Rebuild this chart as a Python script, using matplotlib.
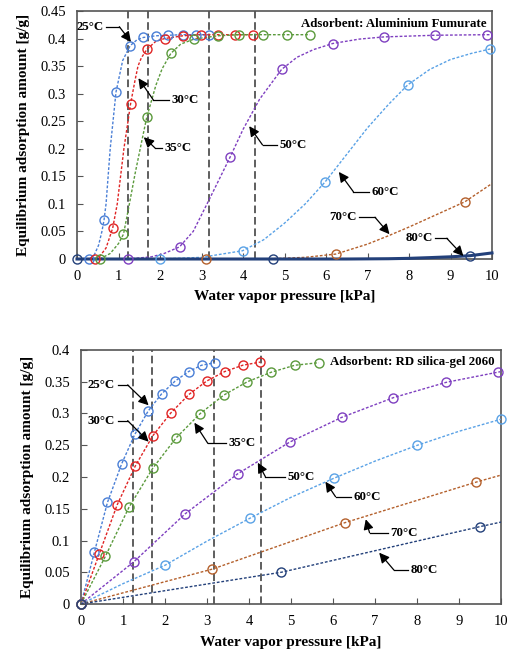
import numpy as np
import matplotlib
matplotlib.use('Agg')
import matplotlib.pyplot as plt
from matplotlib.ticker import FuncFormatter, MultipleLocator

plt.rcParams['font.family'] = ['Liberation Serif', 'DejaVu Serif']

# --- Datos ---
temps = ['25°C', '30°C', '35°C', '50°C', '60°C', '70°C', '80°C']
colors = ['#4a7fd6', '#e02424', '#5b9a3c', '#7e3fc0', '#5aa2e6', '#b4602c', '#23407a']
psat = [1.23, 1.70, 3.17, 4.29]   # líneas verticales discontinuas [kPa]

# Aluminium fumarate: puntos marcados
af25_mx = [0.3, 0.65, 0.94, 1.28, 1.6, 1.9, 2.2, 2.55, 2.87, 3.17]
af25_my = [0, 0.07, 0.303, 0.387, 0.402, 0.405, 0.406, 0.407, 0.407, 0.407]
af30_mx = [0.43, 0.86, 1.29, 1.69, 2.11, 2.55, 2.98, 3.40, 3.81, 4.25]
af30_my = [0, 0.056, 0.281, 0.381, 0.400, 0.405, 0.407, 0.407, 0.407, 0.407]
af35_mx = [0.55, 1.12, 1.68, 2.26, 2.82, 3.39, 3.91, 4.49, 5.05, 5.61]
af35_my = [0, 0.045, 0.257, 0.373, 0.399, 0.405, 0.407, 0.407, 0.407, 0.407]
af50_mx = [1.22, 2.47, 3.69, 4.93, 6.16, 7.40, 8.63, 9.87]
af50_my = [0, 0.022, 0.185, 0.344, 0.391, 0.403, 0.406, 0.407]
af60_mx = [2.0, 3.99, 5.98, 7.97, 9.95]
af60_my = [0, 0.015, 0.140, 0.316, 0.381]
af70_mx = [3.12, 6.24, 9.35]
af70_my = [0, 0.009, 0.104]
af80_mx = [0, 4.73, 9.47]
af80_my = [0, 0, 0.006]

# Aluminium fumarate: curvas
af25_lx = [0, 0.3, 0.42, 0.52, 0.6, 0.65, 0.7, 0.8, 0.94, 1.1, 1.28, 1.45, 1.6, 1.9, 2.2, 2.55, 2.87, 3.17]
af25_ly = [0, 0, 0.008, 0.025, 0.05, 0.07, 0.1, 0.2, 0.303, 0.36, 0.387, 0.398, 0.402, 0.405, 0.406, 0.407, 0.407, 0.407]
af30_lx = [0, 0.43, 0.55, 0.7, 0.86, 0.97, 1.05, 1.13, 1.29, 1.4, 1.47, 1.55, 1.69, 1.9, 2.11, 2.55, 2.98, 3.40, 3.81, 4.25]
af30_ly = [0, 0, 0.005, 0.02, 0.056, 0.1, 0.15, 0.2, 0.281, 0.325, 0.35, 0.365, 0.381, 0.395, 0.400, 0.405, 0.407, 0.407, 0.407, 0.407]
af35_lx = [0, 0.55, 0.8, 1.0, 1.12, 1.25, 1.4, 1.55, 1.68, 1.9, 2.05, 2.26, 2.5, 2.82, 3.39, 3.91, 4.49, 5.05, 5.61]
af35_ly = [0, 0, 0.01, 0.028, 0.045, 0.095, 0.155, 0.21, 0.257, 0.315, 0.345, 0.373, 0.39, 0.399, 0.405, 0.407, 0.407, 0.407, 0.407]
af50_lx = [0, 1.22, 1.8, 2.1, 2.47, 2.8, 3.2, 3.69, 4.0, 4.4, 4.93, 5.3, 5.7, 6.16, 6.8, 7.40, 8.63, 9.87, 10]
af50_ly = [0, 0, 0.004, 0.01, 0.022, 0.05, 0.11, 0.185, 0.235, 0.29, 0.344, 0.366, 0.38, 0.391, 0.399, 0.403, 0.406, 0.407, 0.407]
af60_lx = [0, 2.0, 3.0, 3.99, 4.5, 5.0, 5.5, 5.98, 6.5, 7.0, 7.5, 7.97, 8.5, 9.0, 9.5, 9.95, 10]
af60_ly = [0, 0, 0.003, 0.015, 0.035, 0.065, 0.1, 0.14, 0.19, 0.238, 0.28, 0.316, 0.344, 0.362, 0.373, 0.381, 0.382]
af70_lx = [0, 3.12, 4.5, 5.5, 6.24, 7.0, 7.5, 8.0, 8.5, 9.0, 9.35, 10]
af70_ly = [0, 0, 0, 0.003, 0.009, 0.027, 0.042, 0.058, 0.075, 0.092, 0.104, 0.137]
af80_lx = [0, 4.73, 6.5, 7.5, 8.0, 8.5, 9.0, 9.47, 10]
af80_ly = [0, 0, 0, 0.0005, 0.0012, 0.0025, 0.004, 0.006, 0.011]

# RD silica-gel 2060: puntos marcados
sg25_mx = [0, 0.32, 0.63, 0.97, 1.28, 1.60, 1.92, 2.24, 2.56, 2.87, 3.19]
sg25_my = [0, 0.082, 0.160, 0.221, 0.267, 0.304, 0.331, 0.351, 0.366, 0.376, 0.380]
sg30_mx = [0, 0.43, 0.86, 1.29, 1.71, 2.14, 2.57, 2.99, 3.42, 3.85, 4.27]
sg30_my = [0, 0.078, 0.156, 0.217, 0.265, 0.301, 0.330, 0.351, 0.366, 0.376, 0.381]
sg35_mx = [0, 0.58, 1.14, 1.71, 2.27, 2.84, 3.40, 3.96, 4.53, 5.09, 5.66]
sg35_my = [0, 0.075, 0.152, 0.214, 0.262, 0.300, 0.329, 0.350, 0.365, 0.376, 0.380]
sg50_mx = [0, 1.25, 2.48, 3.73, 4.97, 6.21, 7.44, 8.69, 9.92]
sg50_my = [0, 0.066, 0.142, 0.205, 0.255, 0.294, 0.325, 0.349, 0.365]
sg60_mx = [0, 2.0, 4.02, 6.02, 8.01, 10.0]
sg60_my = [0, 0.061, 0.135, 0.198, 0.250, 0.291]
sg70_mx = [0, 3.13, 6.28, 9.41]
sg70_my = [0, 0.055, 0.128, 0.192]
sg80_mx = [0, 4.77, 9.51]
sg80_my = [0, 0.050, 0.122]

# RD silica-gel 2060: curvas
sg25_lx, sg25_ly = sg25_mx, sg25_my
sg30_lx, sg30_ly = sg30_mx, sg30_my
sg35_lx, sg35_ly = sg35_mx, sg35_my
sg50_lx = sg50_mx + [10]
sg50_ly = sg50_my + [0.366]
sg60_lx = [0, 1.0, 2.0, 3.0, 4.02, 5.0, 6.02, 7.0, 8.01, 9.0, 10.0]
sg60_ly = [0, 0.032, 0.061, 0.099, 0.135, 0.168, 0.198, 0.225, 0.250, 0.272, 0.291]
sg70_lx = sg70_mx + [10]
sg70_ly = sg70_my + [0.203]
sg80_lx = sg80_mx + [10]
sg80_ly = sg80_my + [0.129]

af_marks = [(af25_mx, af25_my), (af30_mx, af30_my), (af35_mx, af35_my), (af50_mx, af50_my),
            (af60_mx, af60_my), (af70_mx, af70_my), (af80_mx, af80_my)]
af_lines = [(af25_lx, af25_ly), (af30_lx, af30_ly), (af35_lx, af35_ly), (af50_lx, af50_ly),
            (af60_lx, af60_ly), (af70_lx, af70_ly), (af80_lx, af80_ly)]
sg_marks = [(sg25_mx, sg25_my), (sg30_mx, sg30_my), (sg35_mx, sg35_my), (sg50_mx, sg50_my),
            (sg60_mx, sg60_my), (sg70_mx, sg70_my), (sg80_mx, sg80_my)]
sg_lines = [(sg25_lx, sg25_ly), (sg30_lx, sg30_ly), (sg35_lx, sg35_ly), (sg50_lx, sg50_ly),
            (sg60_lx, sg60_ly), (sg70_lx, sg70_ly), (sg80_lx, sg80_ly)]

# --- Figura ---
fig = plt.figure(figsize=(5.07, 6.56), dpi=100)
ax1 = fig.add_axes([77/507, 1 - 259/656, 415/507, 248/656])
ax2 = fig.add_axes([81/507, 1 - 604/656, 420/507, 254/656])

fmt = FuncFormatter(lambda v, p: f"{v:.2f}".rstrip('0').rstrip('.'))


def style_axes(ax, ymax, xlab_y, ylab_x):
    ax.set_xlim(0, 10)
    ax.set_ylim(0, ymax)
    ax.xaxis.set_major_locator(MultipleLocator(1))
    ax.yaxis.set_major_locator(MultipleLocator(0.05))
    ax.yaxis.set_major_formatter(fmt)
    ax.tick_params(direction='in', length=4, width=0.8, color='#555555',
                   labelsize=10.5, pad=8)
    for s in ax.spines.values():
        s.set_color('#555555')
        s.set_linewidth(1.2)
    ax.set_xlabel('Water vapor pressure [kPa]', fontsize=11, fontweight='bold')
    ax.set_ylabel('Equilibrium adsorption amount [g/g]', fontsize=11, fontweight='bold')
    ax.xaxis.set_label_coords(0.5, xlab_y)
    ax.yaxis.set_label_coords(ylab_x, 0.5)
    for p in psat:
        ax.axvline(p, color='#333333', lw=1.1, ls=(0, (5, 2.5)), zorder=1)


def callout(ax, label, tx, ty, ha, ex, px, py):
    gap = 0.06 if ha == 'left' else -0.06
    ax.text(tx, ty, label, ha=ha, va='center', fontsize=9.3, fontweight='bold', zorder=6)
    ax.plot([tx - gap, ex], [ty, ty], color='black', lw=0.9, zorder=6)
    ax.annotate('', xy=(px, py), xytext=(ex, ty),
                arrowprops=dict(arrowstyle='-|>,head_length=0.6,head_width=0.3',
                                color='black', lw=0.9, shrinkA=0, shrinkB=0), zorder=6)


# Gráfico superior
style_axes(ax1, 0.45, -0.125, -0.113)
for i, ((lx, ly), (mx, my)) in enumerate(zip(af_lines, af_marks)):
    if i == 6:
        ax1.plot(lx, ly, color=colors[i], lw=2.2, zorder=3, clip_on=False)
    else:
        ax1.plot(lx, ly, color=colors[i], lw=1.0, ls=(0, (2, 1.3)), zorder=3)
    ax1.plot(mx, my, ls='none', marker='o', ms=6.5, mfc='none', mec=colors[i],
             mew=1.0, zorder=4, clip_on=False)
ax1.text(9.88, 0.427, 'Adsorbent: Aluminium Fumurate', ha='right', va='center',
         fontsize=9.3, fontweight='bold')

callout(ax1, temps[0], 0.65, 0.4215, 'right', 1.02, 1.30, 0.394)
callout(ax1, temps[1], 2.28, 0.2885, 'left', 1.84, 1.48, 0.328)
callout(ax1, temps[2], 2.12, 0.2014, 'left', 1.88, 1.61, 0.221)
callout(ax1, temps[3], 4.89, 0.207, 'left', 4.47, 4.15, 0.241)
callout(ax1, temps[4], 7.10, 0.122, 'left', 6.66, 6.31, 0.158)
callout(ax1, temps[5], 6.74, 0.0757, 'right', 7.18, 7.53, 0.045)
callout(ax1, temps[6], 8.57, 0.0376, 'right', 8.91, 9.31, 0.0054)

# Gráfico inferior
style_axes(ax2, 0.4, -0.126, -0.112)
for i, ((lx, ly), (mx, my)) in enumerate(zip(sg_lines, sg_marks)):
    ax2.plot(lx, ly, color=colors[i], lw=1.0, ls=(0, (2, 1.3)), zorder=3)
    ax2.plot(mx, my, ls='none', marker='o', ms=6.5, mfc='none', mec=colors[i],
             mew=1.0, zorder=4, clip_on=False)
ax2.text(9.85, 0.381, 'Adsorbent: RD silica-gel 2060', ha='right', va='center',
         fontsize=9.3, fontweight='bold')

callout(ax2, temps[0], 0.81, 0.345, 'right', 1.11, 1.61, 0.313)
callout(ax2, temps[1], 0.81, 0.2887, 'right', 1.11, 1.61, 0.2556)
callout(ax2, temps[2], 3.51, 0.253, 'left', 3.02, 2.70, 0.2855)
callout(ax2, temps[3], 4.91, 0.2005, 'left', 4.39, 4.21, 0.2225)
callout(ax2, temps[4], 6.49, 0.169, 'left', 6.06, 5.82, 0.1926)
callout(ax2, temps[5], 7.37, 0.1123, 'left', 6.87, 6.78, 0.1334)
callout(ax2, temps[6], 7.85, 0.0535, 'left', 7.45, 7.10, 0.0808)

fig.savefig('out.png', dpi=100)
